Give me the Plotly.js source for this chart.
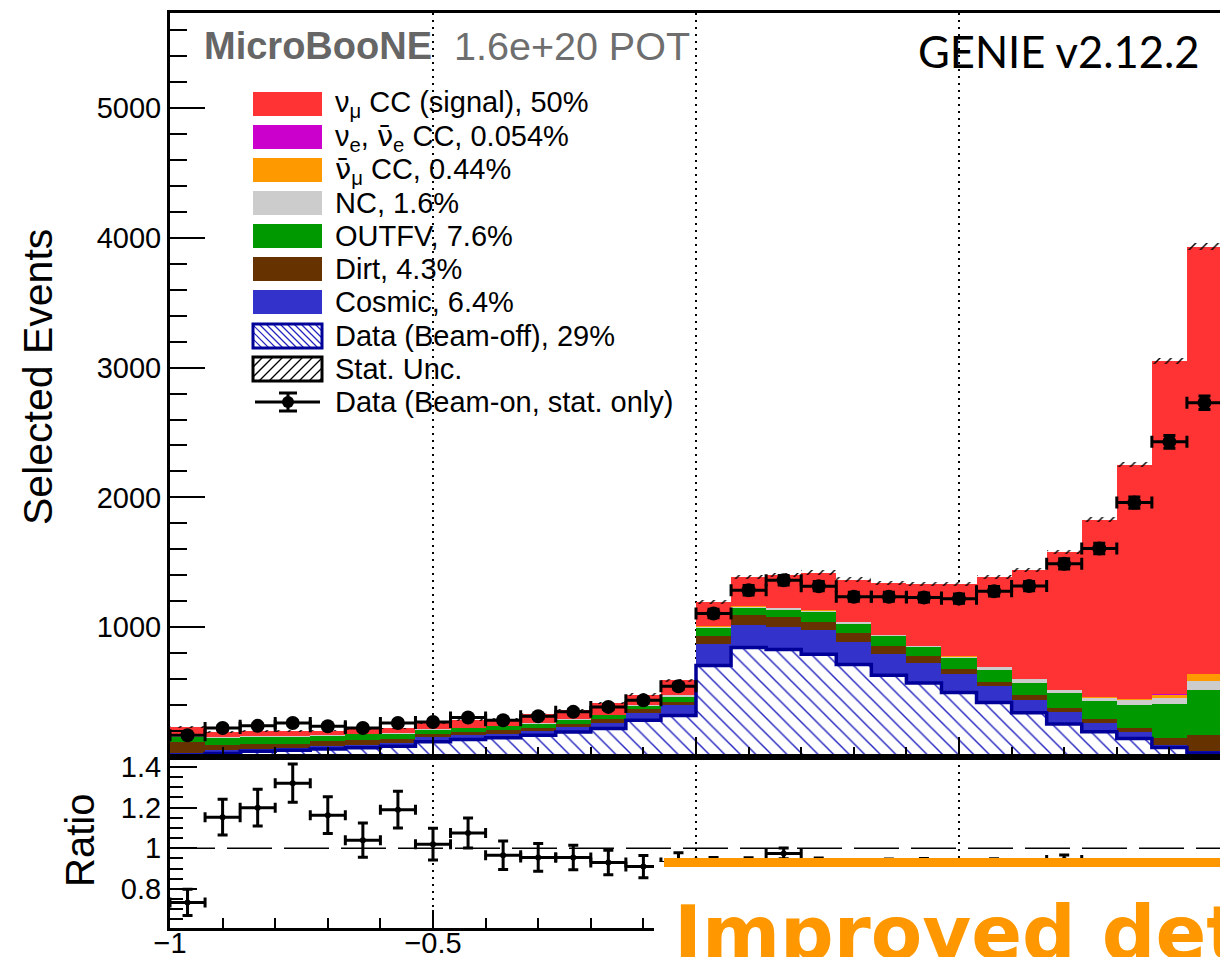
<!DOCTYPE html>
<html><head><meta charset="utf-8">
<script src="https://cdn.plot.ly/plotly-3.0.1.min.js"></script>
<style>html,body{margin:0;padding:0;overflow:hidden;background:#fff;width:1220px;height:957px}#plot{width:1250px;height:957px}</style>
</head><body><div id="plot"></div><script>
// ---- binning (cos theta, 30 uniform bins) ----
const xLow = -1, xHigh = 1, nBins = 30;

// ---- stacked MC components (events per bin) ----
const beamOff = [14,27,44,52,62,72,83,118,134,149,167,193,219,283,320, 705,843,828,792,712,630,571,496, 419,340,255,195,143,74,30];
const cosmic  = [17,25,21,18,21,23,25,36,33,31,33,39,44,57,79, 164,172,170,185,175,162,157,144, 131,102,92,66,52,21,20];
const dirt    = [85,38,38,33,41,39,33,21,23,26,26,25,28,26,25, 62,77,77,64,69,62,49,40, 31,34,32,31,27,48,119];
const outFV   = [39,60,53,53,40,42,39,36,31,31,31,31,31,26,39, 64,57,61,77,72,77,71,84, 87,98,113,140,178,262,347];
const nc      = [4,4,4,4,4,4,4,4,4,4,4,4,5,5,13, 10,10,10,10,10,10,10,10, 26,28,23,26,37,48,73];
const numubar = [0,0,0,0,0,0,0,0,0,0,0,0,0,0,0, 1,1,1,1,1,1,1,2, 2,2,3,8,8,26,47];
const nue     = [0,0,0,0,0,0,0,0,0,0,0,0,0,0,0, 0,0,0,0,0,0,0,0, 0,0,0,0,1,3,3];
const signal  = [72,40,40,38,36,35,36,50,58,52,68,72,88,83,114, 189,228,254,292,328,399,472,555, 689,839,1062,1363,1806,2571,3294];
const statUnc = [8,7,7,7,7,7,7,8,8,8,9,9,10,10,11, 16,17,17,17,17,16,16,16, 17,17,18,19,20,22,25];

// ---- beam-on data ----
const dataOn  = [168,224,240,262,237,224,262,270,304,283,314,348,386,437,545, 1105,1285,1362,1316,1234,1234,1229,1220, 1277,1317,1488,1606,1960,2428,2730];
const dataErr = [13,15,15,16,15,15,16,16,17,17,18,19,20,21,23, 33,36,37,36,35,35,35,35, 36,36,39,40,44,49,52];

// ---- ratio panel ----
const ratio    = [0.734,1.153,1.20,1.32,1.163,1.04,1.19,1.02,1.075,0.966,0.955,0.955,0.93,0.91,0.93, 0.925,0.926,0.975,0.926,0.903,0.92,0.923,0.917, 0.922,0.913,0.942,0.878,0.87,0.795,0.694];
const ratioErr = [0.065,0.088,0.09,0.094,0.09,0.084,0.09,0.078,0.074,0.07,0.068,0.06,0.06,0.055,0.048, 0.03,0.027,0.027,0.026,0.026,0.027,0.027,0.027, 0.026,0.026,0.025,0.024,0.022,0.019,0.015];

// ---- axis tick labels ----
const mainYTicks  = [1000, 2000, 3000, 4000, 5000];
const ratioYTicks = [0.8, 1, 1.2, 1.4];
const ratioXTicks = [-1, -0.5];

// ---- legend labels ----
const NUBAR = '<span style="font-family:DejaVu Sans">ν̄</span>';
const legendLabels = [
  "ν<sub>μ</sub> CC (signal), 50%",
  "ν<sub>e</sub>, " + NUBAR + "<sub>e</sub> CC, 0.054%",
  NUBAR + "<sub>μ</sub> CC, 0.44%",
  "NC, 1.6%",
  "OUTFV, 7.6%",
  "Dirt, 4.3%",
  "Cosmic, 6.4%",
  "Data (Beam-off), 29%",
  "Stat. Unc.",
  "Data (Beam-on, stat. only)"
];

// ================= drawing =================
const FONT = "Liberation Sans, Arial, Helvetica, sans-serif";
const binW = (xHigh - xLow) / nBins;
const centers = Array.from({length: nBins}, (_, i) => xLow + (i + 0.5) * binW);

const colBeamOffLine = '#000099', colHatch = '#2424c0';
const layers = [
  {y: beamOff, color: '#ffffff', pattern: {shape: '\\', fgcolor: colHatch, bgcolor: '#ffffff', size: 11, solidity: 0.13}},
  {y: cosmic,  color: '#3333cc'},
  {y: dirt,    color: '#663300'},
  {y: outFV,   color: '#009900'},
  {y: nc,      color: '#cccccc'},
  {y: numubar, color: '#ff9900'},
  {y: nue,     color: '#cc00cc'},
  {y: signal,  color: '#ff3333'}
];
const traces = [];
let cum = new Array(nBins).fill(0);
layers.forEach(L => {
  const m = {color: L.color, line: {width: 0}};
  if (L.pattern) m.pattern = L.pattern;
  traces.push({type: 'bar', x: centers, y: L.y, base: cum.slice(), width: binW,
    marker: m, xaxis: 'x', yaxis: 'y', hoverinfo: 'skip', showlegend: false});
  cum = cum.map((c, i) => c + L.y[i]);
});
const total = cum;

// stat. unc. band
traces.push({type: 'bar', x: centers, y: statUnc.map(u => 2 * u), base: total.map((t, i) => t - statUnc[i]),
  width: binW, marker: {color: 'rgba(0,0,0,0)', line: {width: 0},
  pattern: {shape: '/', fgcolor: '#000000', size: 8, solidity: 0.18}},
  xaxis: 'x', yaxis: 'y', hoverinfo: 'skip', showlegend: false});

// beam-off outline (step)
const sx = [], sy = [];
for (let i = 0; i < nBins; i++) {
  sx.push(xLow + i * binW, xLow + (i + 1) * binW);
  sy.push(beamOff[i], beamOff[i]);
}
traces.push({type: 'scatter', mode: 'lines', x: sx, y: sy, line: {color: colBeamOffLine, width: 3.5},
  xaxis: 'x', yaxis: 'y', hoverinfo: 'skip', showlegend: false});

// data
traces.push({type: 'scatter', mode: 'markers', x: centers, y: dataOn,
  marker: {color: '#000', size: 14, symbol: 'circle'},
  error_x: {type: 'constant', value: binW / 2, thickness: 3, width: 6, color: '#000'},
  error_y: {type: 'data', array: dataErr, thickness: 3, width: 6, color: '#000'},
  xaxis: 'x', yaxis: 'y', hoverinfo: 'skip', showlegend: false});

// ratio
traces.push({type: 'scatter', mode: 'markers', x: centers, y: ratio,
  marker: {color: '#000', size: 6, symbol: 'circle'},
  error_x: {type: 'constant', value: binW / 2, thickness: 3, width: 5, color: '#000'},
  error_y: {type: 'data', array: ratioErr, thickness: 3, width: 5, color: '#000'},
  xaxis: 'x2', yaxis: 'y2', hoverinfo: 'skip', showlegend: false});

// ---- pixel helpers for decorations ----
const PL = 170, PW = 1052, PT = 13, PH = 915, PB = PT + PH;
const px = v => (v - PL) / PW;
const py = v => (PB - v) / PH;
const splitY = py(757);

const shapes = [];
const annotations = [];

// dotted verticals + dashed unity line
[-0.5, 0, 0.5].forEach(xv => {
  shapes.push({type: 'line', xref: 'x', yref: 'y domain', x0: xv, x1: xv, y0: 0, y1: 1, layer: 'below',
    line: {color: '#000', width: 2, dash: '2px,5px'}});
  shapes.push({type: 'line', xref: 'x2', yref: 'y2 domain', x0: xv, x1: xv, y0: 0, y1: 1, layer: 'below',
    line: {color: '#000', width: 2, dash: '2px,5px'}});
});
shapes.push({type: 'line', xref: 'x2', yref: 'y2', x0: xLow, x1: xHigh, y0: 1, y1: 1, layer: 'below',
  line: {color: '#000', width: 1.5, dash: '45px,12px'}});

// ---- legend ----
const rowY = [104, 137, 170, 203, 236, 269, 302, 336, 369, 402];
const boxL = 253, boxR = 322, boxH = 24;
const fills = ['#ff3333', '#cc00cc', '#ff9900', '#cccccc', '#009900', '#663300', '#3333cc'];
fills.forEach((c, i) => {
  shapes.push({type: 'rect', xref: 'paper', yref: 'paper', x0: px(boxL), x1: px(boxR),
    y0: py(rowY[i] + boxH / 2), y1: py(rowY[i] - boxH / 2), fillcolor: c, line: {width: 0}});
});
function hatch(yc, dir, spacing, color, width) {
  const yT = yc - boxH / 2, yB = yc + boxH / 2;
  for (let c = boxL - boxH - 40; c < boxR + boxH + 40; c += spacing) {
    let seg = null;
    if (dir === '\\') {
      const cc = c - yT;
      const ya = Math.max(yT, boxL - cc), yb = Math.min(yB, boxR - cc);
      if (yb > ya) seg = [ya + cc, ya, yb + cc, yb];
    } else {
      const cc = c + yB;
      const ya = Math.max(yT, cc - boxR), yb = Math.min(yB, cc - boxL);
      if (yb > ya) seg = [cc - ya, ya, cc - yb, yb];
    }
    if (seg) shapes.push({type: 'line', xref: 'paper', yref: 'paper', x0: px(seg[0]), y0: py(seg[1]),
      x1: px(seg[2]), y1: py(seg[3]), line: {color: color, width: width}});
  }
}
hatch(rowY[7], '\\', 7, colHatch, 1.2);
shapes.push({type: 'rect', xref: 'paper', yref: 'paper', x0: px(boxL), x1: px(boxR),
  y0: py(rowY[7] + boxH / 2), y1: py(rowY[7] - boxH / 2), line: {color: colBeamOffLine, width: 3}});
hatch(rowY[8], '/', 10, '#000', 1.3);
shapes.push({type: 'rect', xref: 'paper', yref: 'paper', x0: px(boxL), x1: px(boxR),
  y0: py(rowY[8] + boxH / 2), y1: py(rowY[8] - boxH / 2), line: {color: '#000', width: 3}});
const dY = rowY[9];
shapes.push({type: 'line', xref: 'paper', yref: 'paper', x0: px(255), x1: px(320), y0: py(dY), y1: py(dY), line: {color: '#000', width: 3}});
shapes.push({type: 'line', xref: 'paper', yref: 'paper', x0: px(288), x1: px(288), y0: py(dY - 9), y1: py(dY + 9), line: {color: '#000', width: 3}});
shapes.push({type: 'line', xref: 'paper', yref: 'paper', x0: px(279), x1: px(297), y0: py(dY - 9), y1: py(dY - 9), line: {color: '#000', width: 3}});
shapes.push({type: 'line', xref: 'paper', yref: 'paper', x0: px(279), x1: px(297), y0: py(dY + 9), y1: py(dY + 9), line: {color: '#000', width: 3}});
shapes.push({type: 'circle', xref: 'paper', yref: 'paper', x0: px(282), x1: px(294), y0: py(dY + 6), y1: py(dY - 6), fillcolor: '#000', line: {width: 0}});

legendLabels.forEach((t, i) => {
  annotations.push({xref: 'paper', yref: 'paper', x: px(333), y: py(rowY[i]), xanchor: 'left', yanchor: 'middle',
    text: t, showarrow: false, font: {family: FONT, size: 29, color: '#000'}});
});

// ---- header texts ----
annotations.push({xref: 'paper', yref: 'paper', x: px(202), y: py(46), xanchor: 'left', yanchor: 'middle',
  text: '<b>MicroBooNE</b>', showarrow: false, font: {family: FONT, size: 38, color: '#666666'}});
annotations.push({xref: 'paper', yref: 'paper', x: px(452), y: py(46), xanchor: 'left', yanchor: 'middle',
  text: '1.6e+20 POT', showarrow: false, font: {family: FONT, size: 39.5, color: '#6e6e6e'}});
annotations.push({xref: 'paper', yref: 'paper', x: px(916), y: py(51), xanchor: 'left', yanchor: 'middle',
  text: 'GENIE v2.12.2', showarrow: false, font: {family: 'Lato, ' + FONT, size: 43.5, color: '#000'}});

// axis titles
annotations.push({xref: 'paper', yref: 'paper', x: px(38), y: py(377), xanchor: 'center', yanchor: 'middle', textangle: -90,
  text: 'Selected Events', showarrow: false, font: {family: FONT, size: 41, color: '#000'}});
annotations.push({xref: 'paper', yref: 'paper', x: px(80), y: py(841), xanchor: 'center', yanchor: 'middle', textangle: -90,
  text: 'Ratio', showarrow: false, font: {family: FONT, size: 40, color: '#000'}});

// ---- overlay banner ----
shapes.push({type: 'rect', xref: 'paper', yref: 'paper', x0: px(654), x1: px(1260), y0: py(962), y1: py(862),
  fillcolor: '#ffffff', line: {width: 0}, layer: 'above'});
shapes.push({type: 'rect', xref: 'paper', yref: 'paper', x0: px(664), x1: px(1260), y0: py(867), y1: py(858),
  fillcolor: '#ff9800', line: {width: 0}, layer: 'above'});
annotations.push({xref: 'paper', yref: 'paper', x: px(672), y: py(933), xanchor: 'left', yanchor: 'middle',
  text: '<b>Improved detector</b>', showarrow: false, font: {family: 'DejaVu Sans, sans-serif', size: 75, color: '#ff9800'}});

const axLine = {showline: true, linewidth: 3, linecolor: '#000', mirror: true, showgrid: false, zeroline: false, automargin: false};
const layout = {
  width: 1250, height: 957, autosize: false,
  margin: {l: PL, r: 1250 - PL - PW, t: PT, b: 957 - PB, pad: 0},
  paper_bgcolor: '#fff', plot_bgcolor: 'rgba(0,0,0,0)',
  barmode: 'overlay', bargap: 0, showlegend: false,
  font: {family: FONT, color: '#000'},
  xaxis: Object.assign({}, axLine, {domain: [0, 1], anchor: 'y', range: [xLow, xHigh], showticklabels: false,
    ticks: 'inside', ticklen: 20, tickwidth: 2, tickcolor: '#000', tick0: -1, dtick: 0.5,
    minor: {ticks: 'inside', ticklen: 10, tickwidth: 2, tickcolor: '#000', dtick: 0.1, tick0: -1, showgrid: false}}),
  yaxis: Object.assign({}, axLine, {domain: [splitY, 1], anchor: 'x', range: [0, 5732],
    tickmode: 'array', tickvals: mainYTicks, ticktext: mainYTicks.map(String),
    ticks: 'inside', ticklen: 35, tickwidth: 2, tickcolor: '#000', tickfont: {size: 29, family: FONT},
    minor: {ticks: 'inside', ticklen: 17, tickwidth: 2, tickcolor: '#000', tickmode: 'linear', dtick: 200, tick0: 0, showgrid: false}}),
  xaxis2: Object.assign({}, axLine, {domain: [0, 1], anchor: 'y2', range: [xLow, xHigh],
    tickmode: 'array', tickvals: ratioXTicks, ticktext: ['−1', '−0.5'], ticklabelstandoff: -13,
    ticks: 'inside', ticklen: 18, tickwidth: 2, tickcolor: '#000', tickfont: {size: 29, family: FONT},
    minor: {ticks: 'inside', ticklen: 10, tickwidth: 2, tickcolor: '#000', tickmode: 'linear', dtick: 0.1, tick0: -1, showgrid: false}}),
  yaxis2: Object.assign({}, axLine, {domain: [0, splitY], anchor: 'x2', range: [0.608, 1.449],
    tickmode: 'array', tickvals: ratioYTicks, ticktext: ['0.8', '1', '1.2', '1.4'],
    ticks: 'inside', ticklen: 27, tickwidth: 2, tickcolor: '#000', tickfont: {size: 29, family: FONT},
    minor: {ticks: 'inside', ticklen: 13, tickwidth: 2, tickcolor: '#000', tickmode: 'linear', dtick: 0.05, tick0: 0.6, showgrid: false}}),
  shapes: shapes,
  annotations: annotations
};
Plotly.newPlot('plot', traces, layout, {staticPlot: true, displayModeBar: false});
</script></body></html>
